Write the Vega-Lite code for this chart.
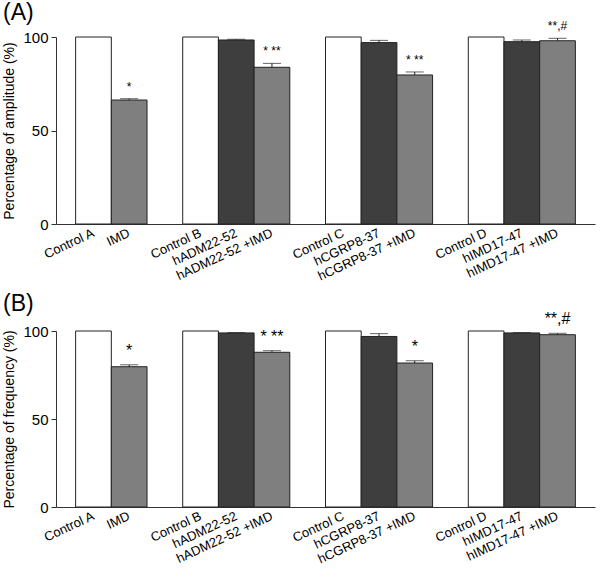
{
  "$schema": "https://vega.github.io/schema/vega-lite/v6.json",
  "padding": {"left": 2, "top": 2, "right": 4, "bottom": 2},
  "config": {
    "font": "Liberation Sans",
    "view": {"stroke": null},
    "concat": {"spacing": 9},
    "title": {"anchor": "start", "frame": "bounds", "fontSize": 23, "fontWeight": "normal", "color": "#000", "offset": -5, "font": "Liberation Sans"},
    "text": {"font": "Liberation Sans"}
  },
  "datasets": {
    "amp": [
      {"cond": "Control A", "type": "control", "value": 100, "hi": 100, "sig": ""},
      {"cond": "IMD", "type": "imd", "value": 66.3, "hi": 67.0, "sig": "*"},
      {"cond": "Control B", "type": "control", "value": 100, "hi": 100, "sig": ""},
      {"cond": "hADM22-52", "type": "antagonist", "value": 98.4, "hi": 98.8, "sig": ""},
      {"cond": "hADM22-52 +IMD", "type": "imd", "value": 83.8, "hi": 85.9, "sig": "* **"},
      {"cond": "Control C", "type": "control", "value": 100, "hi": 100, "sig": ""},
      {"cond": "hCGRP8-37", "type": "antagonist", "value": 97.0, "hi": 98.2, "sig": ""},
      {"cond": "hCGRP8-37 +IMD", "type": "imd", "value": 79.7, "hi": 81.3, "sig": "* **"},
      {"cond": "Control D", "type": "control", "value": 100, "hi": 100, "sig": ""},
      {"cond": "hIMD17-47", "type": "antagonist", "value": 97.5, "hi": 98.4, "sig": ""},
      {"cond": "hIMD17-47 +IMD", "type": "imd", "value": 98.0, "hi": 99.3, "sig": "**,#"}
    ],
    "freq": [
      {"cond": "Control A", "type": "control", "value": 100, "hi": 100, "sig": ""},
      {"cond": "IMD", "type": "imd", "value": 79.7, "hi": 80.8, "sig": "*"},
      {"cond": "Control B", "type": "control", "value": 100, "hi": 100, "sig": ""},
      {"cond": "hADM22-52", "type": "antagonist", "value": 98.9, "hi": 99.1, "sig": ""},
      {"cond": "hADM22-52 +IMD", "type": "imd", "value": 87.9, "hi": 88.8, "sig": "*  **"},
      {"cond": "Control C", "type": "control", "value": 100, "hi": 100, "sig": ""},
      {"cond": "hCGRP8-37", "type": "antagonist", "value": 96.9, "hi": 98.5, "sig": ""},
      {"cond": "hCGRP8-37 +IMD", "type": "imd", "value": 81.8, "hi": 83.1, "sig": "*"},
      {"cond": "Control D", "type": "control", "value": 100, "hi": 100, "sig": ""},
      {"cond": "hIMD17-47", "type": "antagonist", "value": 98.9, "hi": 99.1, "sig": ""},
      {"cond": "hIMD17-47 +IMD", "type": "imd", "value": 97.9, "hi": 98.7, "sig": "**,#"}
    ]
  },
  "vconcat": [
    {
      "title": {"text": "(A)"},
      "width": 539,
      "height": 187,
      "data": {"name": "amp"},
      "encoding": {
        "x": {"field": "cond", "type": "nominal", "sort": null,
          "scale": {"domain": ["Control A", "IMD", "gap1", "Control B", "hADM22-52", "hADM22-52 +IMD", "gap2", "Control C", "hCGRP8-37", "hCGRP8-37 +IMD", "gap3", "Control D", "hIMD17-47", "hIMD17-47 +IMD"], "paddingInner": 0, "paddingOuter": 0.55},
          "axis": {"title": null, "ticks": false, "labelAngle": 335, "labelAlign": "right", "labelBaseline": "middle", "labelPadding": 8, "labelFontSize": 13, "labelFont": "Liberation Sans", "labelColor": "#000", "domainColor": "#333", "labelExpr": "indexof(datum.value, 'gap') == 0 ? '' : datum.value"}}
      },
      "layer": [
        {
          "mark": {"type": "bar", "stroke": "#222", "strokeWidth": 1},
          "encoding": {
            "y": {"field": "value", "type": "quantitative", "scale": {"domain": [0, 100]},
              "axis": {"title": "Percentage of amplitude (%)", "values": [0, 50, 100], "grid": false, "tickSize": 5, "labelFontSize": 15, "labelFont": "Liberation Sans", "labelColor": "#000", "titleFontSize": 14, "titleFont": "Liberation Sans", "titleFontWeight": "normal", "titleColor": "#000", "domainColor": "#333", "tickColor": "#333", "titlePadding": 6, "labelPadding": 3}},
            "color": {"field": "type", "type": "nominal", "scale": {"domain": ["control", "antagonist", "imd"], "range": ["#ffffff", "#3e3e3e", "#7f7f7f"]}, "legend": null}
          }
        },
        {
          "transform": [{"filter": "datum.hi > datum.value"}],
          "mark": {"type": "rule", "color": "#222", "strokeWidth": 1},
          "encoding": {"y": {"field": "value", "type": "quantitative"}, "y2": {"field": "hi"}}
        },
        {
          "transform": [{"filter": "datum.hi > datum.value"}],
          "mark": {"type": "tick", "color": "#222", "size": 18, "thickness": 1},
          "encoding": {"y": {"field": "hi", "type": "quantitative"}}
        },
        {
          "transform": [{"filter": "datum.sig != ''"}],
          "mark": {"type": "text", "fontSize": 12, "baseline": "middle", "dy": -12, "color": "#000", "font": "Liberation Sans"},
          "encoding": {"y": {"field": "hi", "type": "quantitative"}, "text": {"field": "sig"}}
        }
      ]
    },
    {
      "title": {"text": "(B)"},
      "width": 539,
      "height": 176,
      "data": {"name": "freq"},
      "encoding": {
        "x": {"field": "cond", "type": "nominal", "sort": null,
          "scale": {"domain": ["Control A", "IMD", "gap1", "Control B", "hADM22-52", "hADM22-52 +IMD", "gap2", "Control C", "hCGRP8-37", "hCGRP8-37 +IMD", "gap3", "Control D", "hIMD17-47", "hIMD17-47 +IMD"], "paddingInner": 0, "paddingOuter": 0.55},
          "axis": {"title": null, "ticks": false, "labelAngle": 335, "labelAlign": "right", "labelBaseline": "middle", "labelPadding": 8, "labelFontSize": 13, "labelFont": "Liberation Sans", "labelColor": "#000", "domainColor": "#333", "labelExpr": "indexof(datum.value, 'gap') == 0 ? '' : datum.value"}}
      },
      "layer": [
        {
          "mark": {"type": "bar", "stroke": "#222", "strokeWidth": 1},
          "encoding": {
            "y": {"field": "value", "type": "quantitative", "scale": {"domain": [0, 100]},
              "axis": {"title": "Percentage of frequency (%)", "values": [0, 50, 100], "grid": false, "tickSize": 5, "labelFontSize": 15, "labelFont": "Liberation Sans", "labelColor": "#000", "titleFontSize": 14, "titleFont": "Liberation Sans", "titleFontWeight": "normal", "titleColor": "#000", "domainColor": "#333", "tickColor": "#333", "titlePadding": 6, "labelPadding": 3}},
            "color": {"field": "type", "type": "nominal", "scale": {"domain": ["control", "antagonist", "imd"], "range": ["#ffffff", "#3e3e3e", "#7f7f7f"]}, "legend": null}
          }
        },
        {
          "transform": [{"filter": "datum.hi > datum.value"}],
          "mark": {"type": "rule", "color": "#222", "strokeWidth": 1},
          "encoding": {"y": {"field": "value", "type": "quantitative"}, "y2": {"field": "hi"}}
        },
        {
          "transform": [{"filter": "datum.hi > datum.value"}],
          "mark": {"type": "tick", "color": "#222", "size": 18, "thickness": 1},
          "encoding": {"y": {"field": "hi", "type": "quantitative"}}
        },
        {
          "transform": [{"filter": "datum.sig != ''"}],
          "mark": {"type": "text", "fontSize": 16, "baseline": "middle", "dy": -14, "color": "#000", "font": "Liberation Sans"},
          "encoding": {"y": {"field": "hi", "type": "quantitative"}, "text": {"field": "sig"}}
        }
      ]
    }
  ]
}
